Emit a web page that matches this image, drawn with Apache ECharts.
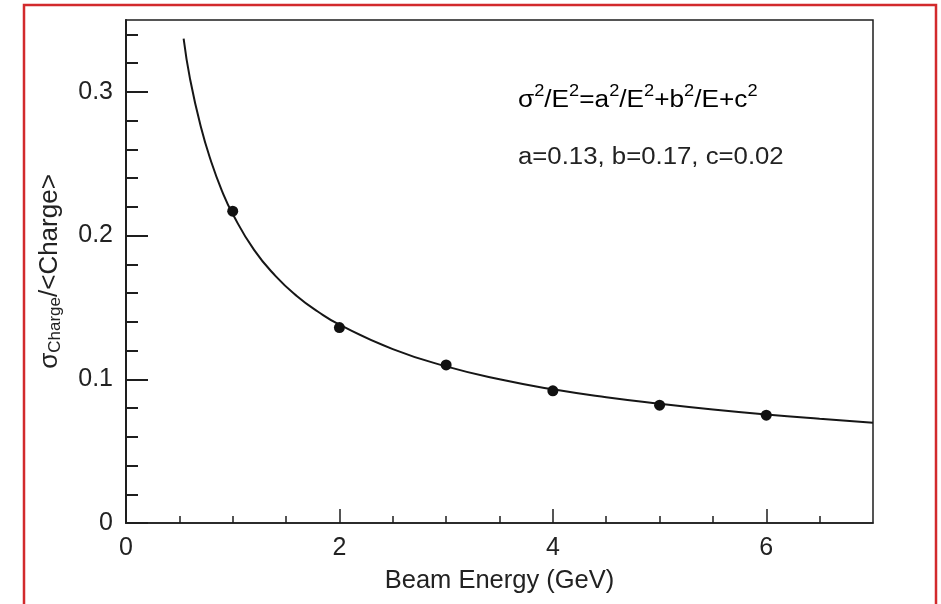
<!DOCTYPE html>
<html>
<head>
<meta charset="utf-8">
<script src="https://cdn.jsdelivr.net/npm/echarts@6/dist/echarts.min.js"></script>
<style>
  html, body { margin: 0; padding: 0; background: #fff; }
  #chart { width: 941px; height: 604px; }
</style>
</head>
<body>
<div id="chart"></div>
<script>
// Measured resolution points (beam energy in GeV, relative charge width)
const beamEnergy = [1, 2, 3, 4, 5, 6];
const resolution = [0.217, 0.136, 0.110, 0.092, 0.082, 0.075];

// Fitted resolution curve, sampled along the drawn line
const fitEnergy = [0.54, 0.6, 0.7, 0.8, 0.9, 1.0, 1.2, 1.4, 1.6, 1.8, 2.0,
                   2.5, 3.0, 3.5, 4.0, 4.5, 5.0, 5.5, 6.0, 6.5, 7.0];
const fitValue  = [0.337, 0.309, 0.276, 0.251, 0.231, 0.215, 0.190, 0.172, 0.158, 0.147, 0.138,
                   0.121, 0.109, 0.100, 0.093, 0.0875, 0.083, 0.079, 0.0755, 0.0725, 0.0698];

// Labelled ticks
const xTicks = [0, 2, 4, 6];
const yTicks = [0, 0.1, 0.2, 0.3];

// Fit parameters quoted on the plot
const fitParams = { a: '0.13', b: '0.17', c: '0.02' };

const FONT = '"Liberation Sans", Arial, Helvetica, sans-serif';
const INK = '#1e1e1e';
const TEXT = '#222';

const chart = echarts.init(document.getElementById('chart'), null, { renderer: 'canvas' });

const supStyle = { fontSize: 16, fontFamily: FONT, color: TEXT, padding: [0, 0, 18, 0] };
const mainStyle = { fontSize: 23, fontFamily: FONT, color: TEXT };

const option = {
  animation: false,
  backgroundColor: '#fff',
  grid: {
    left: 126, top: 20, width: 747, height: 503,
    show: true, borderColor: INK, borderWidth: 1.5, backgroundColor: 'transparent'
  },
  xAxis: {
    type: 'value', min: 0, max: 7, interval: 2,
    axisLine: { show: true, onZero: false, lineStyle: { color: INK, width: 1.5 } },
    axisTick: { show: true, inside: true, length: 14, customValues: xTicks,
                lineStyle: { color: INK, width: 1.5 } },
    minorTick: { show: true, splitNumber: 4, length: 7, lineStyle: { color: INK, width: 1.5 } },
    axisLabel: { customValues: xTicks, fontSize: 25, fontFamily: FONT, color: TEXT, margin: 13 },
    splitLine: { show: false },
    minorSplitLine: { show: false },
    name: 'Beam Energy (GeV)',
    nameLocation: 'middle',
    nameGap: 45,
    nameTextStyle: { fontSize: 25.5, fontFamily: FONT, color: TEXT }
  },
  yAxis: {
    type: 'value', min: 0, max: 0.35, interval: 0.1,
    axisLine: { show: true, lineStyle: { color: INK, width: 2 } },
    axisTick: { show: true, inside: true, length: 22, customValues: yTicks,
                lineStyle: { color: INK, width: 2 } },
    minorTick: { show: true, splitNumber: 5, length: 12, lineStyle: { color: INK, width: 2 } },
    axisLabel: { customValues: yTicks, fontSize: 25, fontFamily: FONT, color: TEXT, margin: 13,
                 formatter: v => (v === 0 ? '0' : String(+v.toFixed(2))) },
    splitLine: { show: false },
    name: '{m|σ}{s|Charge}{m|/<Charge>}',
    nameLocation: 'middle',
    nameGap: 62,
    nameTextStyle: {
      rich: {
        m: { fontSize: 26, fontFamily: FONT, color: TEXT },
        s: { fontSize: 17, fontFamily: FONT, color: TEXT, padding: [12, 0, 0, 0] }
      }
    }
  },
  graphic: [
    {
      type: 'rect', silent: true, z: 100,
      shape: { x: 24, y: 5, width: 912, height: 640 },
      style: { fill: 'none', stroke: '#d22a2c', lineWidth: 2.5 }
    },
    {
      type: 'text', silent: true, z: 100,
      x: 518, y: 101, scaleX: 1.14,
      style: {
        text: '{m|σ}{p|2}{m|/E}{p|2}{m|=a}{p|2}{m|/E}{p|2}{m|+b}{p|2}{m|/E+c}{p|2}',
        verticalAlign: 'middle',
        rich: { m: mainStyle, p: supStyle }
      }
    },
    {
      type: 'text', silent: true, z: 100,
      x: 518, y: 158, scaleX: 1.12,
      style: {
        text: 'a=' + fitParams.a + ', b=' + fitParams.b + ', c=' + fitParams.c,
        font: '23px ' + FONT,
        fill: TEXT,
        verticalAlign: 'middle'
      }
    }
  ],
  series: [
    {
      type: 'line',
      data: fitEnergy.map((e, i) => [e, fitValue[i]]),
      showSymbol: false,
      smooth: true,
      lineStyle: { color: '#161616', width: 2 },
      z: 2
    },
    {
      type: 'scatter',
      data: beamEnergy.map((e, i) => [e, resolution[i]]),
      symbol: 'circle',
      symbolSize: 11,
      itemStyle: { color: '#111', opacity: 1 },
      z: 3
    }
  ]
};

chart.setOption(option);
</script>
</body>
</html>
